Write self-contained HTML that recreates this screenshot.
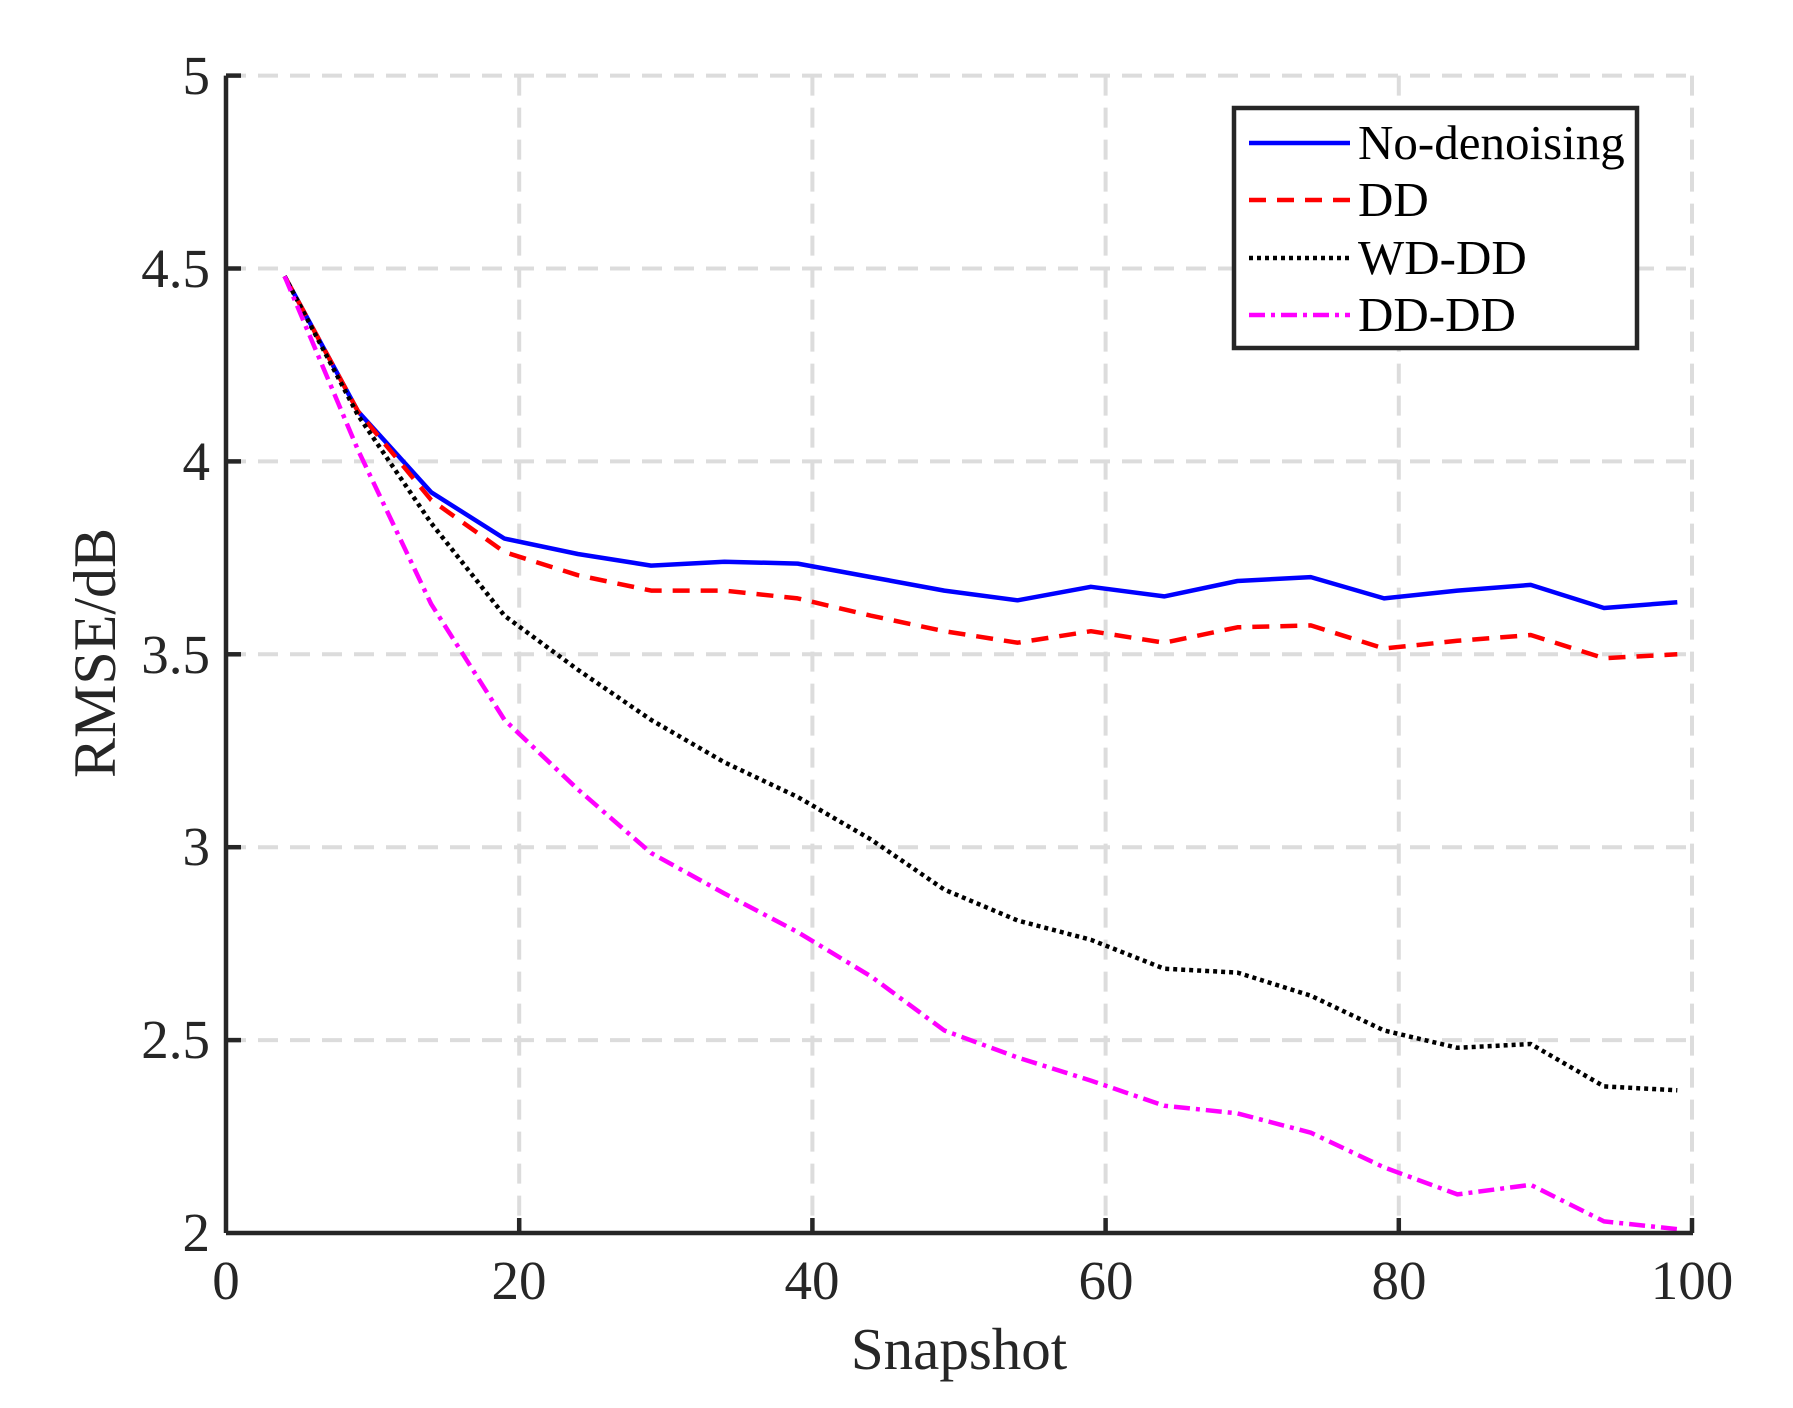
<!DOCTYPE html>
<html><head><meta charset="utf-8"><style>
html,body{margin:0;padding:0;background:#fff;}
svg{display:block;}
text{font-family:"Liberation Serif",serif;fill:#262626;}
</style></head><body>
<svg id="s" width="1793" height="1408" viewBox="0 0 1793 1408" xmlns="http://www.w3.org/2000/svg">
<rect width="1793" height="1408" fill="#fff"/>
<g id="grid" stroke="#dcdcdc" stroke-width="4" stroke-dasharray="20,12" fill="none"></g>
<g id="series" fill="none" stroke-width="4.5" stroke-linejoin="round"></g>
<g stroke="#262626" stroke-width="4.5" fill="none">
<line x1="226" y1="1233" x2="1693" y2="1233"/>
<line x1="226" y1="75.6" x2="226" y2="1233"/>
</g>
<g id="ticks" stroke="#262626" stroke-width="4.5"></g>
<g font-size="55" text-anchor="end">
<text x="210" y="1251">2</text>
<text x="210" y="1058">2.5</text>
<text x="210" y="865">3</text>
<text x="210" y="673">3.5</text>
<text x="210" y="480">4</text>
<text x="210" y="287">4.5</text>
<text x="210" y="94">5</text>
</g>
<g font-size="55" text-anchor="middle">
<text x="226" y="1299">0</text>
<text x="519" y="1299">20</text>
<text x="812" y="1299">40</text>
<text x="1106" y="1299">60</text>
<text x="1399" y="1299">80</text>
<text x="1692" y="1299">100</text>
<text x="959" y="1369" font-size="59">Snapshot</text>
<text transform="translate(115,653) rotate(-90)" font-size="60">RMSE/dB</text>
</g>
<rect x="1234" y="108" width="403" height="240" fill="#fff" stroke="#262626" stroke-width="4.5"/>
<g stroke-width="4.5">
<line x1="1249" y1="143" x2="1350" y2="143" stroke="#0000ff"/>
<line x1="1249" y1="200" x2="1350" y2="200" stroke="#ff0000" stroke-dasharray="17,11"/>
<line x1="1249" y1="258" x2="1350" y2="258" stroke="#000" stroke-dasharray="4,4"/>
<line x1="1249" y1="315" x2="1350" y2="315" stroke="#ff00ff" stroke-dasharray="16,6,4,6"/>
</g>
<g font-size="49">
<text x="1358" y="159" style="fill:#000">No-denoising</text>
<text x="1358" y="216" style="fill:#000">DD</text>
<text x="1358" y="274" style="fill:#000">WD-DD</text>
<text x="1358" y="331" style="fill:#000">DD-DD</text>
</g>
</svg>
<script>
var NS="http://www.w3.org/2000/svg";
function X(s){return 226+s*14.66;}
function Y(v){return 75.6+(5-v)*385.8;}
function el(p,n,a){var e=document.createElementNS(NS,n);for(var k in a)e.setAttribute(k,a[k]);p.appendChild(e);}
var g=document.getElementById('grid'),t=document.getElementById('ticks');
for(var i=1;i<=5;i++){el(g,'line',{x1:X(i*20),y1:75.6,x2:X(i*20),y2:1233});el(t,'line',{x1:X(i*20),y1:1233,x2:X(i*20),y2:1218});}
for(var v=2.5;v<=5;v+=0.5){el(g,'line',{x1:226,y1:Y(v),x2:1693,y2:Y(v)});el(t,'line',{x1:226,y1:Y(v),x2:241,y2:Y(v)});}
var xs=[];for(var s=4;s<=99;s+=5)xs.push(s);
var D=[
["#0000ff","",[4.48,4.13,3.92,3.80,3.76,3.73,3.74,3.735,3.70,3.665,3.64,3.675,3.65,3.69,3.70,3.645,3.665,3.68,3.62,3.635]],
["#ff0000","17,11",[4.48,4.13,3.90,3.765,3.705,3.665,3.665,3.645,3.60,3.56,3.53,3.56,3.53,3.57,3.575,3.515,3.535,3.55,3.49,3.50]],
["#000000","4,4",[4.48,4.12,3.84,3.60,3.46,3.33,3.22,3.13,3.02,2.89,2.81,2.76,2.685,2.675,2.615,2.525,2.48,2.49,2.38,2.37]],
["#ff00ff","16,6,4,6",[4.48,4.03,3.63,3.33,3.15,2.985,2.88,2.78,2.665,2.525,2.455,2.395,2.33,2.31,2.26,2.17,2.10,2.125,2.03,2.01]]];
var sg=document.getElementById('series');
D.forEach(function(d){var pts=d[2].map(function(v,i){return X(xs[i]).toFixed(1)+","+Y(v).toFixed(1);}).join(" ");
var a={points:pts,stroke:d[0]};if(d[1])a['stroke-dasharray']=d[1];el(sg,'polyline',a);});
</script>
</body></html>
